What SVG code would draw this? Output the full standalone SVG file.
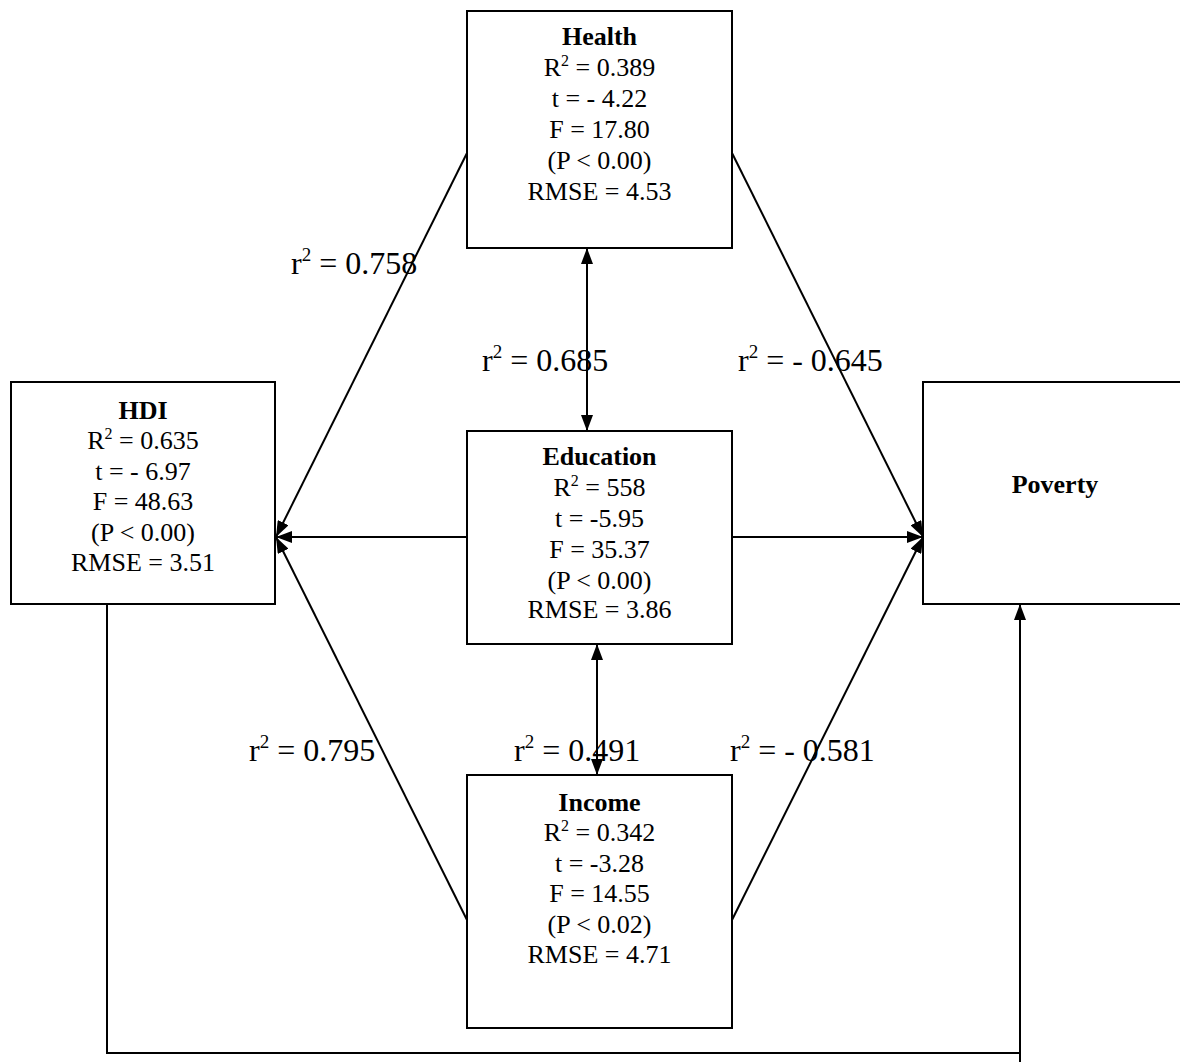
<svg xmlns="http://www.w3.org/2000/svg" width="1180" height="1062" viewBox="0 0 1180 1062">
<style>
.box{fill:#fff;stroke:#000;stroke-width:2}
.t{font-family:"Liberation Serif","Times New Roman",serif;font-size:26px;text-anchor:middle;fill:#000}
.b{font-weight:bold}
.lbl{font-family:"Liberation Serif","Times New Roman",serif;font-size:32px;fill:#000}
.ln{stroke:#000;stroke-width:2;fill:none}
.sup{font-size:16px}
.sup2{font-size:19px}
</style>
<defs>
<marker id="ah" viewBox="0 0 16 12" refX="16" refY="6" markerWidth="16" markerHeight="12" markerUnits="userSpaceOnUse" orient="auto-start-reverse">
<path d="M0,0 L16,6 L0,12 z" fill="#000"/>
</marker>
</defs>
<rect width="1180" height="1062" fill="#fff"/>
<g id="connectors">
<path class="ln" d="M467,153 L276,537" marker-end="url(#ah)"/>
<path class="ln" d="M467,537 L276,537" marker-end="url(#ah)"/>
<path class="ln" d="M467,920 L276,537" marker-end="url(#ah)"/>
<path class="ln" d="M732,153 L923,537" marker-end="url(#ah)"/>
<path class="ln" d="M732,537 L923,537" marker-end="url(#ah)"/>
<path class="ln" d="M732,920 L923,537" marker-end="url(#ah)"/>
<path class="ln" d="M587,248 L587,431" marker-start="url(#ah)" marker-end="url(#ah)"/>
<path class="ln" d="M597,644 L597,775" marker-start="url(#ah)" marker-end="url(#ah)"/>
<path class="ln" d="M107,604 V1053 H1020"/>
<path class="ln" d="M1020,1062 V604" marker-end="url(#ah)"/>
</g>
<g id="health">
<rect class="box" x="467" y="11" width="265" height="237"/>
<text class="t b" x="599.5" y="45">Health</text>
<text class="t" x="599.5" y="76">R<tspan class="sup" dy="-10">2</tspan><tspan dy="10"> = 0.389</tspan></text>
<text class="t" x="599.5" y="107">t = - 4.22</text>
<text class="t" x="599.5" y="138">F = 17.80</text>
<text class="t" x="599.5" y="169">(P &lt; 0.00)</text>
<text class="t" x="599.5" y="200">RMSE = 4.53</text>
</g>
<g id="hdi">
<rect class="box" x="11" y="382" width="264" height="222"/>
<text class="t b" x="143" y="419">HDI</text>
<text class="t" x="143" y="449">R<tspan class="sup" dy="-10">2</tspan><tspan dy="10"> = 0.635</tspan></text>
<text class="t" x="143" y="480">t = - 6.97</text>
<text class="t" x="143" y="510">F = 48.63</text>
<text class="t" x="143" y="541">(P &lt; 0.00)</text>
<text class="t" x="143" y="571">RMSE = 3.51</text>
</g>
<g id="education">
<rect class="box" x="467" y="431" width="265" height="213"/>
<text class="t b" x="599.5" y="465">Education</text>
<text class="t" x="599.5" y="496">R<tspan class="sup" dy="-10">2</tspan><tspan dy="10"> = 558</tspan></text>
<text class="t" x="599.5" y="527">t = -5.95</text>
<text class="t" x="599.5" y="558">F = 35.37</text>
<text class="t" x="599.5" y="589">(P &lt; 0.00)</text>
<text class="t" x="599.5" y="618">RMSE = 3.86</text>
</g>
<g id="income">
<rect class="box" x="467" y="775" width="265" height="253"/>
<text class="t b" x="599.5" y="811">Income</text>
<text class="t" x="599.5" y="841">R<tspan class="sup" dy="-10">2</tspan><tspan dy="10"> = 0.342</tspan></text>
<text class="t" x="599.5" y="872">t = -3.28</text>
<text class="t" x="599.5" y="902">F = 14.55</text>
<text class="t" x="599.5" y="933">(P &lt; 0.02)</text>
<text class="t" x="599.5" y="963">RMSE = 4.71</text>
</g>
<g id="poverty">
<rect class="box" x="923" y="382" width="264" height="222"/>
<text class="t b" x="1055" y="493">Poverty</text>
</g>
<g id="labels">
<text class="lbl" x="291" y="274">r<tspan class="sup2" dy="-13">2</tspan><tspan dy="13"> = 0.758</tspan></text>
<text class="lbl" x="482" y="371">r<tspan class="sup2" dy="-13">2</tspan><tspan dy="13"> = 0.685</tspan></text>
<text class="lbl" x="738" y="371">r<tspan class="sup2" dy="-13">2</tspan><tspan dy="13"> = - 0.645</tspan></text>
<text class="lbl" x="249" y="761">r<tspan class="sup2" dy="-13">2</tspan><tspan dy="13"> = 0.795</tspan></text>
<text class="lbl" x="514" y="761">r<tspan class="sup2" dy="-13">2</tspan><tspan dy="13"> = 0.491</tspan></text>
<text class="lbl" x="730" y="761">r<tspan class="sup2" dy="-13">2</tspan><tspan dy="13"> = - 0.581</tspan></text>
</g>
</svg>
